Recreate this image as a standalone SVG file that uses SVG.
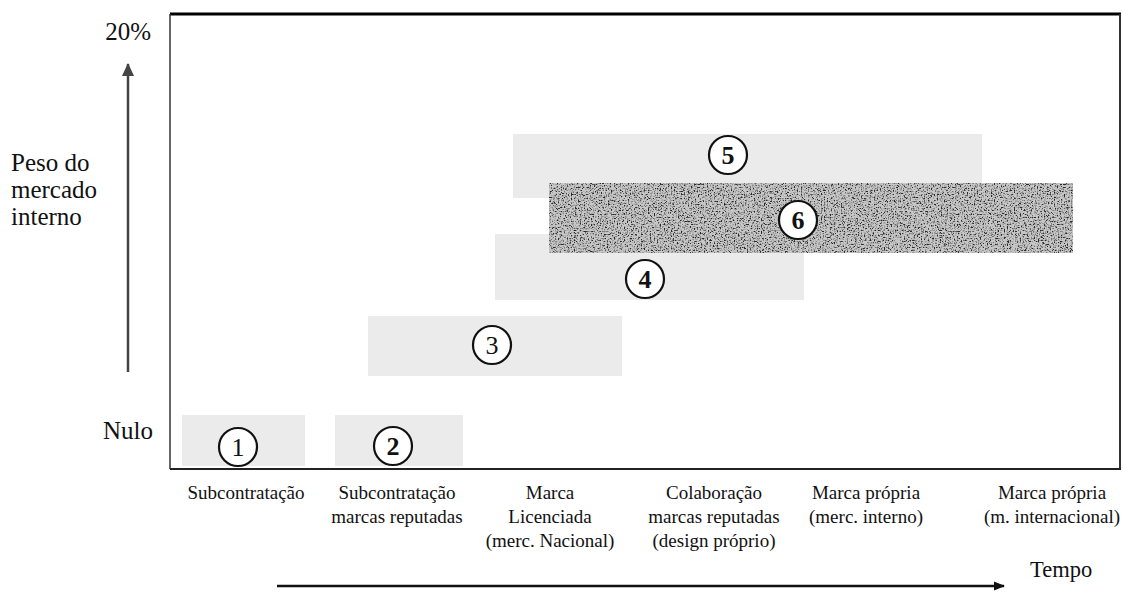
<svg xmlns="http://www.w3.org/2000/svg" width="1123" height="611" viewBox="0 0 1123 611">
<style>
  .lbl { font-size: 25px; fill: #111; }
  .cat { font-size: 19px; text-anchor: middle; fill: #111; }
  .num { font-size: 26px; text-anchor: middle; fill: #111; }
  .b { font-weight: bold; }
  .box { fill: #ebebeb; }
  .circ { fill: #ffffff; stroke: #111; stroke-width: 2.2; }
</style>
<defs>
  <marker id="ah" markerWidth="12" markerHeight="12" refX="10" refY="6" orient="auto" markerUnits="userSpaceOnUse">
    <path d="M0,1.5 L11,6 L0,10.5 Z" fill="#111"/>
  </marker>
  <marker id="ahu" markerWidth="14" markerHeight="14" refX="12" refY="7" orient="auto" markerUnits="userSpaceOnUse">
    <path d="M0,1 L13,7 L0,13 Z" fill="#444"/>
  </marker>
  <filter id="noise" x="0" y="0" width="100%" height="100%">
    <feTurbulence type="fractalNoise" baseFrequency="0.7" numOctaves="2" seed="3" result="t"/>
    <feColorMatrix in="t" type="matrix" values="0 0 0 0 0  0 0 0 0 0  0 0 0 0 0  3 3 0 0 -2.85" result="a"/>
    <feFlood flood-color="#c8c8c8" result="bg"/>
    <feFlood flood-color="#2a2a2a" result="fg"/>
    <feComposite in="fg" in2="a" operator="in" result="dots"/>
    <feMerge result="m"><feMergeNode in="bg"/><feMergeNode in="dots"/></feMerge>
    <feComposite in="m" in2="SourceGraphic" operator="in"/>
  </filter>
</defs>

<g id="frame">
  <rect x="170" y="14" width="951" height="455" fill="#fff" stroke="none"/>
  <line x1="170" y1="14" x2="1121" y2="14" stroke="#000" stroke-width="3"/>
  <line x1="170" y1="14" x2="170" y2="469" stroke="#333" stroke-width="1.5"/>
  <line x1="1120" y1="14" x2="1120" y2="469" stroke="#333" stroke-width="2"/>
  <line x1="170" y1="469" x2="1121" y2="469" stroke="#222" stroke-width="2"/>
</g>

<g id="axis-labels" font-family="Liberation Serif">
  <text class="lbl" font-family="Liberation Serif" x="151" y="40" text-anchor="end">20%</text>
  <text class="lbl" font-family="Liberation Serif" x="11" y="171">Peso do</text>
  <text class="lbl" font-family="Liberation Serif" x="11" y="198">mercado</text>
  <text class="lbl" font-family="Liberation Serif" x="11" y="225">interno</text>
  <text class="lbl" font-family="Liberation Serif" x="153" y="439" text-anchor="end">Nulo</text>
  <text class="lbl" font-family="Liberation Serif" x="1030" y="577" style="font-size:22.5px">Tempo</text>
</g>

<g id="connectors">
  <line x1="128" y1="372" x2="128" y2="64" stroke="#444" stroke-width="2.5" marker-end="url(#ahu)"/>
  <line x1="277" y1="586" x2="1004" y2="586" stroke="#111" stroke-width="2.5" marker-end="url(#ah)"/>
</g>

<g id="node1">
  <rect class="box" x="182" y="415" width="123" height="51"/>
  <circle class="circ" cx="238" cy="447" r="19"/>
  <text class="num" font-family="Liberation Serif" x="238" y="456">1</text>
</g>
<g id="node2">
  <rect class="box" x="335" y="415" width="128" height="51"/>
  <circle class="circ" cx="393" cy="446" r="19"/>
  <text class="num b" font-family="Liberation Serif" x="393" y="455">2</text>
</g>
<g id="node3">
  <rect class="box" x="368" y="316" width="254" height="60"/>
  <circle class="circ" cx="492" cy="345" r="19"/>
  <text class="num" font-family="Liberation Serif" x="492" y="354">3</text>
</g>
<g id="node4">
  <rect class="box" x="495" y="234" width="309" height="66"/>
</g>
<g id="node5">
  <rect class="box" x="513" y="134" width="469" height="64"/>
  <circle class="circ" cx="728" cy="155" r="19"/>
  <text class="num b" font-family="Liberation Serif" x="728" y="164">5</text>
</g>
<g id="node6">
  <rect x="549" y="183" width="524" height="70" fill="#888" filter="url(#noise)"/>
  <circle class="circ" cx="798" cy="220" r="19"/>
  <text class="num b" font-family="Liberation Serif" x="798" y="229">6</text>
</g>
<g id="node4-label">
  <circle class="circ" cx="645" cy="279" r="19"/>
  <text class="num b" font-family="Liberation Serif" x="645" y="288">4</text>
</g>

<g id="categories" font-family="Liberation Serif">
  <text class="cat" font-family="Liberation Serif" x="246" y="499">Subcontratação</text>
  <text class="cat" font-family="Liberation Serif" x="397" y="499">Subcontratação</text>
  <text class="cat" font-family="Liberation Serif" x="397" y="523">marcas reputadas</text>
  <text class="cat" font-family="Liberation Serif" x="550" y="499">Marca</text>
  <text class="cat" font-family="Liberation Serif" x="550" y="523">Licenciada</text>
  <text class="cat" font-family="Liberation Serif" x="550" y="547">(merc. Nacional)</text>
  <text class="cat" font-family="Liberation Serif" x="714" y="499">Colaboração</text>
  <text class="cat" font-family="Liberation Serif" x="714" y="523">marcas reputadas</text>
  <text class="cat" font-family="Liberation Serif" x="714" y="547">(design próprio)</text>
  <text class="cat" font-family="Liberation Serif" x="866" y="499">Marca própria</text>
  <text class="cat" font-family="Liberation Serif" x="866" y="523">(merc. interno)</text>
  <text class="cat" font-family="Liberation Serif" x="1052" y="499">Marca própria</text>
  <text class="cat" font-family="Liberation Serif" x="1052" y="523">(m. internacional)</text>
</g>
</svg>
